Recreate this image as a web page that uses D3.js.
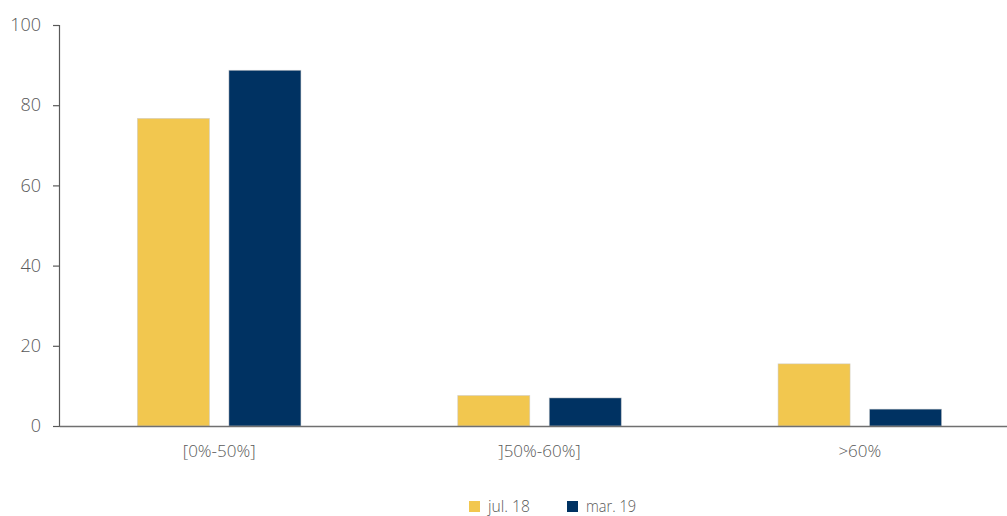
<!DOCTYPE html>
<html>
<head>
<meta charset="utf-8">
<script src="https://cdn.jsdelivr.net/npm/d3@7/dist/d3.min.js"></script>
<style>
  html, body { margin: 0; padding: 0; background: #fff; }
  svg { display: block; }
  text { font-family: "Open Sans", "DejaVu Sans", sans-serif; font-weight: 300; fill: #595959; }
</style>
</head>
<body>
<svg id="chart" width="1007" height="516"></svg>
<script>
// Loan-to-value brackets and the share of loans in each, per period
const categories = ["[0%-50%]", "]50%-60%]", ">60%"];
const seriesNames = ["jul. 18", "mar. 19"];
const jul18 = [76.7, 7.6, 15.5];
const mar19 = [88.7, 7.0, 4.2];
const yTicks = [0, 20, 40, 60, 80, 100];
const colors = ["#F2C74F", "#003262"];

const svg = d3.select("#chart");
const plot = { left: 59, right: 1020, top: 25, bottom: 426 };

const x0 = d3.scaleBand().domain(categories).range([plot.left, plot.right]).paddingInner(0).paddingOuter(0);
const x1 = d3.scaleBand().domain(seriesNames).range([0, x0.bandwidth()]).paddingInner(0.213).paddingOuter(0.857);
const y = d3.scaleLinear().domain([0, 100]).range([plot.bottom, plot.top]);

const series = [jul18, mar19];

// bars
series.forEach((vals, si) => {
  svg.append("g").selectAll("rect")
    .data(categories)
    .join("rect")
    .attr("x", c => x0(c) + x1(seriesNames[si]))
    .attr("width", x1.bandwidth())
    .attr("y", (c, i) => y(vals[i]))
    .attr("height", (c, i) => y(0) - y(vals[i]))
    .attr("fill", colors[si])
    .attr("stroke", "#c8c8c8")
    .attr("stroke-opacity", 0.6)
    .attr("stroke-width", 0.8);
});

// y axis
const yAxis = svg.append("g")
  .attr("transform", `translate(${plot.left},0)`)
  .call(d3.axisLeft(y).tickValues(yTicks).tickSize(6).tickPadding(12));
yAxis.select(".domain").attr("stroke", "#595959").attr("stroke-width", 1.2);
yAxis.selectAll(".tick line").attr("stroke", "#595959").attr("stroke-width", 1.2);
yAxis.selectAll(".tick text").attr("font-size", 18).attr("font-family", null).attr("fill", "#595959");

// x axis
const xAxis = svg.append("g")
  .attr("transform", `translate(0,${plot.bottom})`)
  .call(d3.axisBottom(x0).tickSize(0).tickPadding(19));
xAxis.select(".domain").attr("stroke", "#707070").attr("stroke-width", 1.6);
xAxis.selectAll(".tick text").attr("font-size", 17).attr("font-family", null).attr("fill", "#595959");

// legend
const legendItems = [
  { name: seriesNames[0], color: colors[0], x: 469 },
  { name: seriesNames[1], color: colors[1], x: 567 }
];
const lg = svg.append("g");
legendItems.forEach(d => {
  lg.append("rect").attr("x", d.x).attr("y", 501).attr("width", 11).attr("height", 11).attr("fill", d.color);
  lg.append("text").attr("x", d.x + 19).attr("y", 512).attr("font-size", 17)
    .attr("textLength", d.name === "jul. 18" ? 42 : 50).attr("lengthAdjust", "spacingAndGlyphs")
    .text(d.name);
});
</script>
</body>
</html>
